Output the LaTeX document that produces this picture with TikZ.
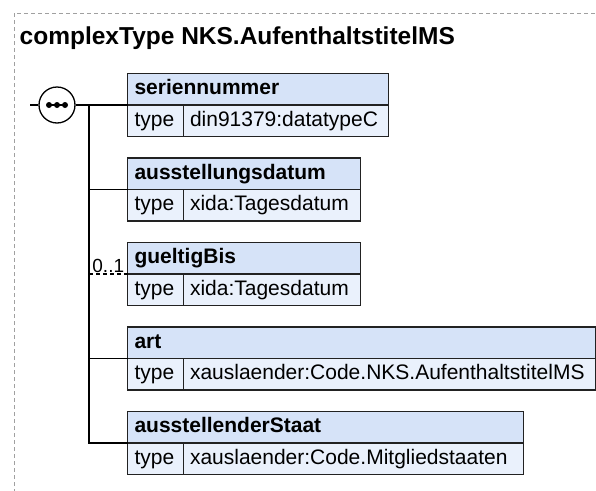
\documentclass[tikz,border=0pt]{standalone}
\usepackage{fontspec}
\setmainfont{Liberation Sans}
\usetikzlibrary{positioning,calc}
\definecolor{HeadBlue}{RGB}{214,227,248}
\definecolor{RowBlue}{RGB}{234,241,252}
\definecolor{EdgeDark}{RGB}{34,34,34}
\definecolor{FrameGrey}{RGB}{160,160,160}

\begin{document}
\begin{tikzpicture}[
  x=1pt, y=-1pt,
  boxfont/.style={font=\fontsize{21}{24}\selectfont},
  cell/.style={draw=EdgeDark, line width=1.2pt, anchor=north west, outer sep=0pt,
               inner ysep=0pt, minimum height=31.5pt, text height=15pt, text depth=4.5pt,
               align=left, boxfont},
  hdr/.style={cell, fill=HeadBlue, inner xsep=7pt, text width=#1, font=\bfseries\fontsize{21}{24}\selectfont},
  tkey/.style={cell, fill=RowBlue, inner xsep=7pt, text width=42pt},
  tval/.style={cell, fill=RowBlue, inner xsep=6.5pt, text width=#1},
  conn/.style={line width=1.2pt, black},
  frame/.style={FrameGrey, line width=0.8pt, dash pattern=on 4pt off 3pt},
  ttl/.style={anchor=base west, inner sep=0pt, font=\bfseries\fontsize{24.5}{28}\selectfont},
  occ/.style={font=\fontsize{19}{21}\selectfont, inner sep=1pt},
]
\useasboundingbox (0,0) rectangle (596,490);
\clip (0,0) rectangle (596,490);

% ============ FRAME + TITLE ============
\draw[frame] (14,500) -- (14,13) -- (620,13);
\node[ttl] (title) at (19.5,44.3) {complexType NKS.AufenthaltstitelMS};

% ============ SEQUENCE COMPOSITOR ============
\node[draw=black, line width=1.3pt, fill=white, circle, minimum size=36pt, inner sep=0pt] (seq) at (57,105) {};
\draw[line width=1.8pt] ($(seq)+(-9,0)$) -- ($(seq)+(9,0)$);
\foreach \dx in {-8,0,8}
  \fill ($(seq)+(\dx,0)$) circle (3pt);
\coordinate (inlet) at (30,105);
\coordinate (trunk) at (89,105);

% ============ ELEMENTS ============
\node[hdr=247pt] (h1) at (127.5,73.5) {seriennummer};
\node[tkey] (k1) at (h1.south west) {type};
\node[tval=192pt] (v1) at (k1.north east) {din91379:datatypeC};

\node[hdr=219pt] (h2) at (127.5,158) {ausstellungsdatum};
\node[tkey] (k2) at (h2.south west) {type};
\node[tval=164pt] (v2) at (k2.north east) {xida:Tagesdatum};

\node[hdr=219pt] (h3) at (127.5,242.5) {gueltigBis};
\node[tkey] (k3) at (h3.south west) {type};
\node[tval=164pt] (v3) at (k3.north east) {xida:Tagesdatum};

\node[hdr=454pt] (h4) at (127.5,327) {art};
\node[tkey] (k4) at (h4.south west) {type};
\node[tval=399pt] (v4) at (k4.north east) {xauslaender:Code.NKS.AufenthaltstitelMS};

\node[hdr=382pt] (h5) at (127.5,411.5) {ausstellenderStaat};
\node[tkey] (k5) at (h5.south west) {type};
\node[tval=327pt] (v5) at (k5.north east) {xauslaender:Code.Mitgliedstaaten};

% ============ CONNECTORS ============
\draw[conn] (inlet) -- (seq.west);
\draw[conn] (seq.east) -- (h1.south west);
\draw[conn] (trunk) |- (h5.south west);
\draw[conn] (trunk |- h2.south west) -- (h2.south west);
\draw[conn, dash pattern=on 4pt off 3pt] (trunk |- h3.south west) -- (h3.south west)
      node[occ, midway, above] (occ3) {0..1};
\draw[conn] (trunk |- h4.south west) -- (h4.south west);

\end{tikzpicture}
\end{document}
